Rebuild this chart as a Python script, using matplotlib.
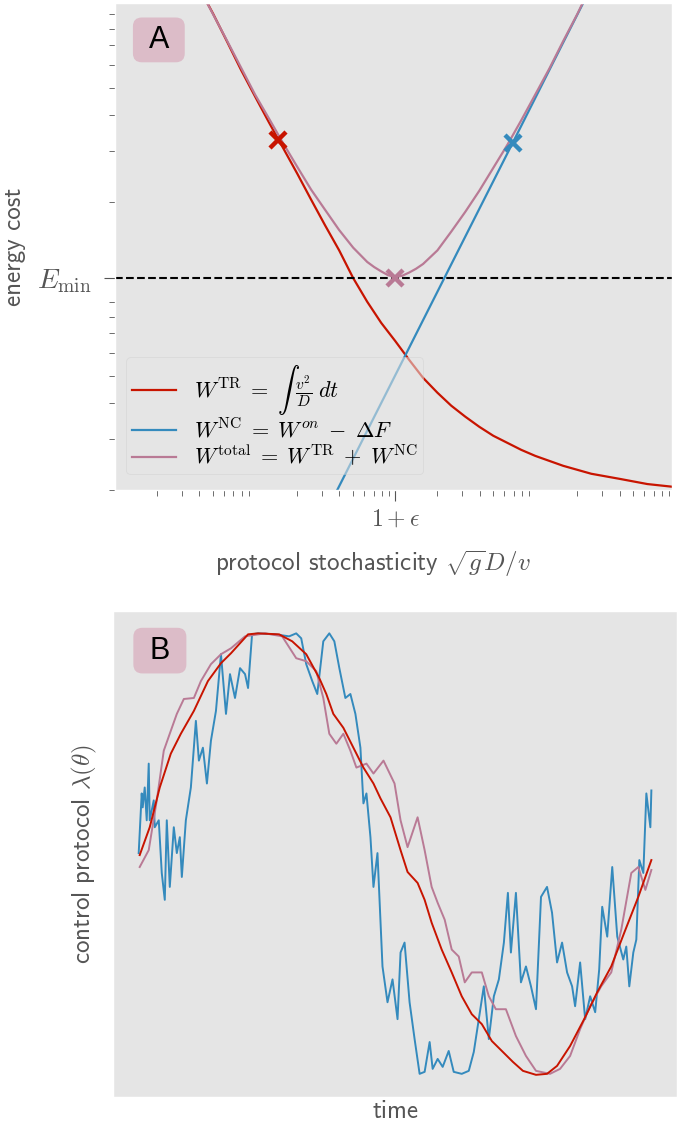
import matplotlib
matplotlib.use("Agg")
import matplotlib.pyplot as plt
from matplotlib.patches import FancyBboxPatch
import numpy as np

plt.style.use("ggplot")
plt.rcParams["mathtext.fontset"] = "cm"
plt.rcParams["axes.grid"] = False

# panel A: energy cost vs protocol stochasticity (log-log)
x_tr = [0.0398, 0.0501, 0.0631, 0.0794, 0.1, 0.126, 0.158, 0.200, 0.251, 0.316,
        0.398, 0.501, 0.631, 0.794, 1.0, 1.26, 1.58, 2.0, 2.51, 3.16,
        3.98, 5.01, 6.31, 7.94, 10.0, 15.8, 25.1, 39.8, 63.1, 100.0]
w_tr = [11.1, 9.02, 7.21, 5.75, 4.65, 3.77, 3.09, 2.51, 2.04, 1.66,
        1.36, 1.09, 0.902, 0.762, 0.659, 0.566, 0.491, 0.436, 0.393, 0.360,
        0.332, 0.309, 0.292, 0.276, 0.263, 0.243, 0.228, 0.219, 0.210, 0.205]

x_nc = [0.158, 0.398, 1.0, 2.51, 6.31, 15.8, 39.8]
w_nc = [0.0851, 0.2065, 0.501, 1.216, 2.95, 7.16, 17.4]

x_tot = [0.0398, 0.0631, 0.1, 0.126, 0.158, 0.200, 0.251, 0.316, 0.398, 0.501,
         0.631, 0.708, 0.794, 0.891, 1.0, 1.12, 1.26, 1.41, 1.58, 2.0, 2.51, 3.16,
         3.98, 5.01, 6.31, 7.94, 10.0, 12.6, 15.8, 20.0, 25.1]
w_tot = [11.1, 7.26, 4.72, 3.89, 3.21, 2.65, 2.21, 1.88, 1.60, 1.39,
         1.24, 1.19, 1.15, 1.115, 1.10, 1.11, 1.14, 1.175, 1.22, 1.36, 1.58, 1.85,
         2.19, 2.63, 3.16, 3.85, 4.73, 5.82, 7.24, 9.02, 11.35]

e_min = 1.09
mark_x = [0.146, 1.0, 6.9]
mark_y = [3.3, 1.09, 3.22]

# panel B: control protocols over time (arbitrary units)
t_red = [2, 12, 22, 33, 43, 56, 70, 83, 93, 110, 120, 141, 154, 168, 181, 188, 195,
         205, 215, 225, 235, 242, 252, 262, 269, 279, 286, 293, 303, 313, 323, 333,
         343, 353, 364, 374, 384, 397, 408, 418, 431, 445, 458, 472, 485, 499, 512]
lam_red = [221, 249, 289, 323, 343, 366, 396, 414, 424, 443, 444, 443, 436, 423, 399,
           383, 363, 349, 329, 309, 293, 278, 259, 226, 204, 193, 176, 153, 126, 103,
           79, 61, 51, 34, 23, 13, 4, 0, 1, 9, 29, 56, 83, 109, 143, 179, 216]

t_pink = [2, 11, 19, 26, 33, 39, 46, 56, 63, 73, 83, 93, 107, 127, 144, 158, 168, 178,
          185, 191, 198, 205, 212, 218, 228, 235, 245, 256, 262, 269, 279, 286, 293,
          299, 306, 313, 320, 326, 333, 343, 350, 357, 367, 377, 387, 397, 411, 421,
          431, 441, 451, 462, 472, 482, 492, 499, 506, 512]
lam_pink = [209, 226, 276, 326, 346, 363, 378, 379, 396, 413, 423, 429, 441, 444, 441,
            419, 416, 406, 379, 343, 333, 343, 326, 309, 313, 303, 316, 293, 256, 229,
            259, 226, 189, 173, 156, 126, 119, 93, 103, 103, 79, 66, 66, 39, 19, 4, 1,
            6, 19, 46, 69, 89, 103, 146, 203, 209, 186, 206]

t_blue = [1, 4, 5, 7, 9, 11, 12, 16, 17, 21, 24, 27, 29, 32, 36, 39, 42, 44, 48, 53,
          58, 61, 65, 69, 73, 78, 83, 88, 92, 97, 102, 107, 110, 114, 120, 137, 151,
          158, 163, 168, 174, 179, 185, 191, 196, 201, 207, 212, 217, 222, 225, 228,
          232, 235, 239, 244, 249, 254, 259, 262, 266, 271, 276, 281, 286, 291, 294,
          299, 304, 310, 315, 323, 330, 335, 340, 345, 350, 355, 360, 365, 369, 372,
          377, 382, 387, 392, 397, 402, 408, 413, 418, 423, 428, 433, 436, 441, 446,
          451, 456, 460, 463, 468, 473, 478, 484, 487, 490, 494, 497, 500, 504, 507,
          511, 512]
lam_blue = [223, 283, 269, 289, 256, 313, 256, 276, 249, 256, 203, 176, 256, 189, 249,
            223, 239, 199, 256, 289, 356, 316, 329, 293, 336, 366, 423, 363, 403, 379,
            409, 403, 389, 443, 444, 443, 441, 444, 439, 413, 396, 383, 436, 444, 436,
            409, 379, 383, 363, 329, 273, 283, 239, 189, 223, 109, 73, 96, 56, 123, 133,
            73, 36, 1, 3, 33, 6, 16, 8, 24, 3, 1, 4, 23, 56, 89, 36, 79, 96, 133, 183,
            123, 183, 93, 109, 89, 66, 179, 189, 163, 113, 133, 103, 89, 69, 113, 56, 79,
            63, 106, 169, 139, 209, 139, 116, 129, 89, 123, 136, 216, 203, 283, 249, 286]

red = "#c81400"
blue = "#348abd"
pink = "#b97a95"
sans = "cmss10"


def panel_label(ax, letter, x0, y0, w, h):
    aspect = ax.bbox.width / ax.bbox.height
    box = FancyBboxPatch((x0, y0), w, h, boxstyle="round,pad=0,rounding_size=0.016",
                         mutation_aspect=aspect, transform=ax.transAxes,
                         fc="#dcbcc8", ec="none", zorder=5)
    ax.add_patch(box)
    ax.text(x0 + w / 2, y0 + h / 2, letter, transform=ax.transAxes, fontsize=22,
            family="Liberation Sans", ha="center", va="center", zorder=6)


fig = plt.figure(figsize=(6.77, 11.32), dpi=100)
ax1 = fig.add_axes([0.170, 0.567, 0.823, 0.430])
ax2 = fig.add_axes([0.167, 0.031, 0.833, 0.429])

ax1.plot(x_tr, w_tr, color=red, lw=1.6,
         label=r"$W^{\rm TR}\;=\;\int\;\frac{v^2}{D}\;dt$")
ax1.plot(x_nc, w_nc, color=blue, lw=1.6,
         label=r"$W^{\rm NC}\;=\;W^{on}\;-\;\Delta F$")
ax1.plot(x_tot, w_tot, color=pink, lw=1.6,
         label=r"$W^{\rm total}\;=\;W^{\rm TR}\;+\;W^{\rm NC}$")
ax1.axhline(e_min, color="k", ls="--", lw=1.5)
for mx, my, c in zip(mark_x, mark_y, [red, pink, blue]):
    ax1.plot(mx, my, "x", color=c, ms=11, mew=3.2)

ax1.set_xscale("log")
ax1.set_yscale("log")
ax1.set_xlim(0.01, 95)
ax1.set_ylim(0.2, 9.8)
ax1.set_xticks([1.0])
ax1.set_xticklabels([r"$1+\epsilon$"], fontsize=17)
ax1.set_yticks([e_min])
ax1.set_yticklabels([r"$E_{\min}$"], fontsize=20)
ax1.tick_params(axis="both", which="minor", labelleft=False, labelbottom=False, length=4)
ax1.tick_params(axis="both", which="major", length=8)
ax1.tick_params(axis="y", which="major", pad=9)
ax1.set_xlabel(r"protocol stochasticity $\sqrt{g}D/v$", fontsize=18, family=sans)
ax1.xaxis.set_label_coords(0.462, -0.12)
ax1.set_ylabel("energy cost", fontsize=18, family=sans)
ax1.yaxis.set_label_coords(-0.16, 0.5)
ax1.legend(loc="lower left", fontsize=16, framealpha=0.55, edgecolor="#cccccc",
           facecolor="#e5e5e5", handlelength=2.0, borderpad=0.25, labelspacing=0.05,
           bbox_to_anchor=(0.0, 0.01))
panel_label(ax1, "A", 0.032, 0.879, 0.093, 0.092)

ax2.plot(t_blue, lam_blue, color=blue, lw=1.4)
ax2.plot(t_pink, lam_pink, color=pink, lw=1.4)
ax2.plot(t_red, lam_red, color=red, lw=1.4)
ax2.set_xticks([])
ax2.set_yticks([])
ax2.set_xlabel("time", fontsize=18, family=sans, labelpad=2)
ax2.set_ylabel(r"control protocol $\lambda(\theta)$", fontsize=18, family=sans)
ax2.yaxis.set_label_coords(-0.025, 0.5)
panel_label(ax2, "B", 0.036, 0.872, 0.094, 0.094)

fig.savefig("out.png", dpi=100)
